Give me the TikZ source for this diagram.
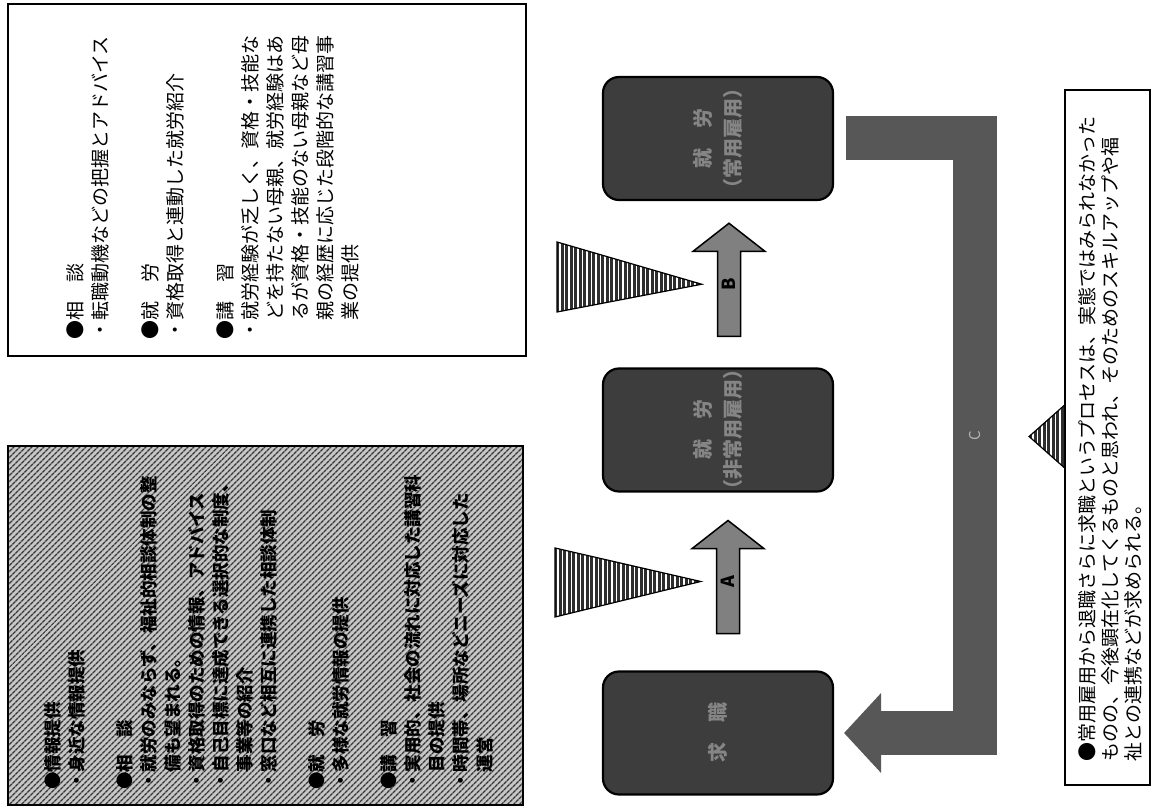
\documentclass[tikz,border=0pt]{standalone}
\usepackage{fontspec}
\newfontfamily\jp{Noto Sans CJK JP}
\usetikzlibrary{patterns.meta,shapes.arrows,calc}
\begin{document}
\begin{tikzpicture}[x=1pt,y=1pt,
  panel/.style={draw=black,line width=1.8pt,inner sep=0pt},
  rtext/.style={rotate=90,anchor=north west,align=left,inner sep=0pt,text=black},
  procbox/.style={draw=black,line width=2.2pt,fill=black!76,rounded corners=16pt,minimum width=230pt,minimum height=123pt,inner sep=0pt},
  boxlabel/.style={rotate=90,align=center,text=black!48,font=\jp\bfseries\fontsize{20}{30}\selectfont},
  blockarrow/.style={single arrow,draw=black,line width=1.5pt,fill=black!50,rotate=90,minimum height=113pt,minimum width=72pt,single arrow head extend=18pt,single arrow tip angle=104,inner sep=1pt,font=\jp\bfseries\fontsize{18}{18}\selectfont},
  wedgefill/.style={fill=black!82},
  stripe/.style={draw=white,line width=1.1pt},
  wedgeline/.style={draw=black,line width=1.2pt},
  cbar/.style={line width=44pt,draw=black!66,line join=miter}
]
\useasboundingbox (0,0) rectangle (1152,809);

% information panels
\node[panel,fill=white,minimum width=518pt,minimum height=352pt] (wbox) at (267,629) {};
\node[panel,preaction={fill=black!22},pattern={Lines[angle=45,distance=4pt,line width=1.6pt]},pattern color=black!78,minimum width=515pt,minimum height=359pt] (hbox) at (265.5,183.5) {};

\node[rtext,font=\jp\fontsize{19}{25}\selectfont] (wtext) at (66.5,469) {●相　談\\・転職動機などの把握とアドバイス\\[25pt]●就　労\\・資格取得と連動した就労紹介\\[25pt]●講　習\\・就労経験が乏しく、資格・技能な\\　どを持たない母親、就労経験はあ\\　るが資格・技能のない母親など母\\　親の経歴に応じた段階的な講習事\\　業の提供};

\node[rtext,font=\jp\bfseries\fontsize{17.5}{24}\selectfont] (htext) at (44,19) {●情報提供\\・身近な情報提供\\[24pt]●相　談\\・就労のみならず、福祉的相談体制の整\\　備も望まれる。\\・資格取得のための情報、アドバイス\\・自己目標に達成できる選択的な制度、\\　事業等の紹介\\・窓口など相互に連携した相談体制\\[24pt]●就　労\\・多様な就労情報の提供\\[24pt]●講　習\\・実用的、社会の流れに対応した講習科\\　目の提供\\・時間帯、場所などニーズに対応した\\　運営};

% process boxes
\node[procbox] (box3) at (718,670.5) {};
\node[procbox] (box2) at (718,379) {};
\node[procbox] (box1) at (718,76) {};
\node[boxlabel] (l1) at (box1) {求　職};
\node[boxlabel] (l2) at (box2) {就　労\\（非常用雇用）};
\node[boxlabel] (l3) at (box3) {就　労\\（常用雇用）};

% block arrows
\node[blockarrow] (arrA) at ($($(box1.north)!0.5!(box2.south)$)+(10,0)$) {A};
\node[blockarrow] (arrB) at ($($(box2.north)!0.5!(box3.south)$)+(11,0)$) {B};

% wedge towards A
\coordinate (wa) at ($(arrA.north)+(-15,0)$);
\begin{scope}
  \clip (555,261) -- (555,192) -- (wa) -- cycle;
  \fill[wedgefill] (550,180) rectangle (700,270);
  \foreach \x in {558,562.5,...,700} \draw[stripe] (\x,180) -- (\x,270);
\end{scope}
\draw[wedgeline] (555,261) -- (555,192) -- (wa) -- cycle;

% wedge towards B
\coordinate (wb) at ($(arrB.north)+(-15,0)$);
\begin{scope}
  \clip (557,567) -- (557,497) -- (wb) -- cycle;
  \fill[wedgefill] (550,490) rectangle (705,575);
  \foreach \x in {560,564.5,...,705} \draw[stripe] (\x,490) -- (\x,575);
\end{scope}
\draw[wedgeline] (557,567) -- (557,497) -- (wb) -- cycle;

% return arrow C
\coordinate (cs) at ($(box3.east)+(12,0)$);
\coordinate (ct) at ($(box1.east)+(10,0)$);
\coordinate (cx) at (974.5,400);
\draw[cbar] (cs) -- (cs -| cx) -- (ct -| cx) -- ($(ct)+(30,0)$);
\fill[black!66] (ct) -- ($(ct)+(37,40)$) -- ($(ct)+(37,-40)$) -- cycle;
\node[rotate=90,font=\jp\fontsize{15}{15}\selectfont,text=black!30] (clab) at (974.5,373) {C};

% note
\node[panel,fill=white,minimum width=85pt,minimum height=695pt] (nbox) at (1107.5,371.5) {};
\coordinate (n1) at ($(nbox.west)+(0,32)$);
\coordinate (n2) at ($(nbox.west)+(-35,1)$);
\coordinate (n3) at ($(nbox.west)+(0,-30)$);
\begin{scope}
  \clip (n1) -- (n2) -- (n3) -- cycle;
  \fill[wedgefill] (1025,335) rectangle (1070,410);
  \foreach \x in {1033,1037.5,...,1066} \draw[stripe] (\x,335) -- (\x,410);
\end{scope}
\draw[wedgeline] (n1) -- (n2) -- (n3);
\node[rtext,font=\jp\fontsize{19}{23}\selectfont] (ntext) at (1078.5,47) {●常用雇用から退職さらに求職というプロセスは、実態ではみられなかった\\ものの、今後顕在化してくるものと思われ、そのためのスキルアップや福\\祉との連携などが求められる。};
\end{tikzpicture}
\end{document}
